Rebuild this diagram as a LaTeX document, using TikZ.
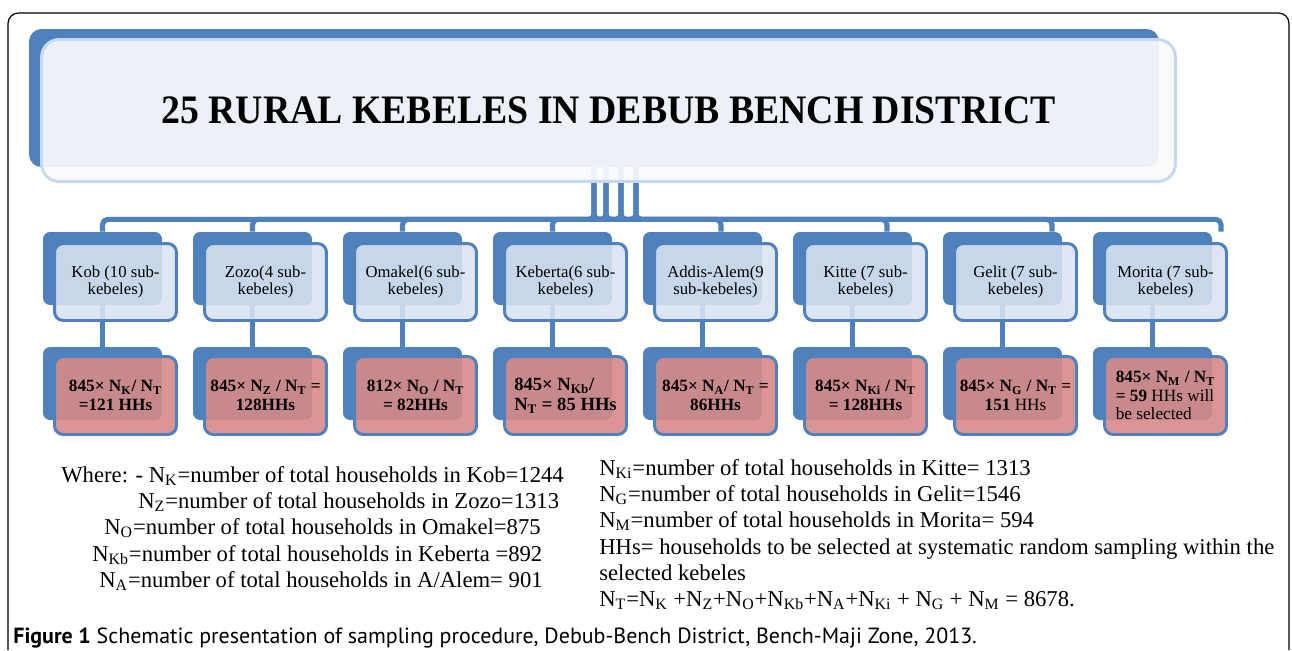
\documentclass[tikz,border=0pt]{standalone}
\usepackage{fontspec}
\setmainfont{Liberation Serif}
\newfontfamily\capfont{PT Sans}
\usepackage{tikz}
\usetikzlibrary{positioning,backgrounds}
\definecolor{kbblue}{RGB}{79,129,189}
\definecolor{kbpale}{RGB}{216,227,240}
\definecolor{kbrose}{RGB}{214,138,136}
\definecolor{kbtitle}{RGB}{250,251,253}
\definecolor{kbedge}{RGB}{198,217,241}
\newcommand{\sub}[1]{\textsubscript{#1}}
\tikzstyle{titleback} = [rectangle, rounded corners=7pt, fill=kbblue, minimum width=22.6cm, minimum height=2.76cm]
\tikzstyle{titlebox} = [rectangle, rounded corners=10pt, draw=kbedge, line width=1.7pt, fill=kbtitle, fill opacity=0.92, text opacity=1, minimum width=22.68cm, minimum height=2.84cm, font=\fontsize{21.5}{24}\selectfont\bfseries]
\tikzstyle{back} = [rectangle, rounded corners=4pt, fill=kbblue, minimum width=2.38cm, minimum height=1.46cm]
\tikzstyle{kebele} = [rectangle, rounded corners=5pt, draw=kbblue, line width=1.7pt, fill=kbpale, fill opacity=0.88, text opacity=1, minimum width=2.44cm, minimum height=1.54cm, inner sep=2pt, align=center, font=\fontsize{9.5}{10}\selectfont]
\tikzstyle{sample} = [kebele, fill=kbrose, fill opacity=0.9, minimum height=1.56cm, font=\fontsize{9.8}{10.5}\selectfont\bfseries]
\tikzstyle{link} = [kbblue, line width=2.9pt]
\tikzstyle{legend} = [anchor=base west, inner sep=0pt, font=\fontsize{12.9}{14.7}\selectfont]

\begin{document}
\begin{tikzpicture}[x=0.02cm, y=-0.02cm]
\useasboundingbox (0,0) rectangle (1292,650);
\draw[line width=0.7pt, rounded corners=6pt] (8,650) -- (8,13) -- (1289,13) -- (1289,650);

% top box
\node[titleback] (ttlback) at (594,98) {};
\node[titlebox] (ttl) at (608.5,110.5) {\scalebox{1}[1.07]{25 RURAL KEBELES IN DEBUB BENCH DISTRICT}};

\foreach \i in {1,...,8} {
  \node[back] (kbk\i) at ({102.5+150*(\i-1)},268.5) {};
  \node[back] (hbk\i) at ({102.5+150*(\i-1)},383.5) {};
}

% kebeles
\node[kebele] (keb1) at (115.5,282) {Kob (10 sub-\\kebeles)};
\node[kebele] (keb2) at (265.5,282) {Zozo(4 sub-\\kebeles)};
\node[kebele] (keb3) at (415.5,282) {Omakel(6 sub-\\kebeles)};
\node[kebele] (keb4) at (565.5,282) {Keberta(6 sub-\\kebeles)};
\node[kebele] (keb5) at (715.5,282) {Addis-Alem(9\\sub-kebeles)};
\node[kebele] (keb6) at (865.5,282) {Kitte (7 sub-\\kebeles)};
\node[kebele] (keb7) at (1015.5,282) {Gelit (7 sub-\\kebeles)};
\node[kebele] (keb8) at (1165.5,282) {Morita (7 sub-\\kebeles)};

% households per kebele
\node[sample] (hh1) at (115.5,395.5) {845× N\sub{K}/ N\sub{T}\\=121 HHs};
\node[sample] (hh2) at (265.5,395.5) {845× N\sub{Z} / N\sub{T} =\\128HHs};
\node[sample] (hh3) at (415.5,395.5) {812× N\sub{O} / N\sub{T}\\= 82HHs};
\node[sample, align=left, font=\fontsize{10.6}{11.5}\selectfont\bfseries] (hh4) at (565.5,395.5) {845× N\sub{Kb}/\\N\sub{T} = 85 HHs};
\node[sample] (hh5) at (715.5,395.5) {845× N\sub{A}/ N\sub{T} =\\86HHs};
\node[sample] (hh6) at (865.5,395.5) {845× N\sub{Ki} / N\sub{T}\\= 128HHs};
\node[sample] (hh7) at (1015.5,395.5) {845× N\sub{G} / N\sub{T} =\\151 \textmd{HHs}};
\node[sample, align=left] (hh8) at (1165.5,395.5) {845× N\sub{M} / N\sub{T}\\= 59 \textmd{HHs will}\\\textmd{be selected}};

\begin{scope}[on background layer]
\foreach \i in {1,...,8}
  \draw[link] (kbk\i.south) -- (hbk\i.north);
\foreach \i/\s/\e in {1/0/0, 2/0.24/0, 3/0.54/0, 4/0.84/0, 5/0/0.37, 6/0.24/0.69, 7/0.54/0.99, 8/0.84/1.37}
  \draw[link, rounded corners=3pt] ([xshift=\s cm]ttlback.south) -- ++(0,52) -| ([xshift=\e cm]kbk\i.north);
\end{scope}

% legend
\node[legend] (leg1) at (61,482) {Where: - N\sub{K}=number of total households in Kob=1244};
\node[legend] (leg2) at (138,508) {N\sub{Z}=number of total households in Zozo=1313};
\node[legend] (leg3) at (104,534.5) {N\sub{O}=number of total households in Omakel=875};
\node[legend] (leg4) at (92,561) {N\sub{Kb}=number of total households in Keberta =892};
\node[legend] (leg5) at (99,587) {N\sub{A}=number of total households in A/Alem= 901};
\node[legend] (leg6) at (599,475.5) {N\sub{Ki}=number of total households in Kitte= 1313};
\node[legend] (leg7) at (599,501.5) {N\sub{G}=number of total households in Gelit=1546};
\node[legend] (leg8) at (599,527.5) {N\sub{M}=number of total households in Morita= 594};
\node[legend] (leg9) at (599,554) {HHs= households to be selected at systematic random sampling within the};
\node[legend] (leg10) at (599,580) {selected kebeles};
\node[legend] (leg11) at (599,606) {N\sub{T}=N\sub{K} +N\sub{Z}+N\sub{O}+N\sub{Kb}+N\sub{A}+N\sub{Ki} + N\sub{G} + N\sub{M} = 8678.};

\node[anchor=base west, inner sep=0pt, font=\capfont\fontsize{12.5}{14}\selectfont] (cap) at (13,643)
  {\textbf{Figure 1} Schematic presentation of sampling procedure, Debub-Bench District, Bench-Maji Zone, 2013.};
\end{tikzpicture}
\end{document}
